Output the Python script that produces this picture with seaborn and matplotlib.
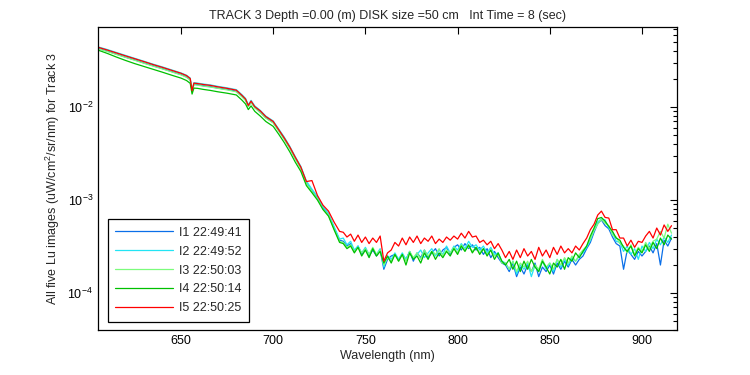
import numpy as np
import matplotlib
matplotlib.use('Agg')
import matplotlib.pyplot as plt
import seaborn as sns

sns.set_style('white')
plt.rcParams['font.family'] = ['Liberation Sans', 'DejaVu Sans']
plt.rcParams['mathtext.default'] = 'regular'

# 波长 (nm): 平滑段 + 噪声段
wl_smooth = [605, 610, 615, 620, 625, 630, 635, 640, 645, 650, 653, 655, 656, 657, 659, 662, 666, 670,
             675, 680, 683, 685, 686.5, 688, 690, 693, 696, 700, 703, 706, 709, 712, 715, 718, 721, 724,
             727, 730, 733, 736]
wl_noisy = [738, 740, 742, 744, 746, 748, 750, 752, 754, 756, 758, 760, 762, 764, 766, 768, 770, 772,
            774, 776, 778, 780, 782, 784, 786, 788, 790, 792, 794, 796, 798, 800, 802, 804, 806, 808,
            810, 812, 814, 816, 818, 820, 822, 824, 826, 828, 830, 832, 834, 836, 838, 840, 842, 844,
            846, 848, 850, 852, 854, 856, 858, 860, 862, 864, 866, 868, 870, 872, 874, 876, 878, 880,
            882, 884, 886, 888, 890, 892, 894, 896, 898, 900, 902, 904, 906, 908, 910, 912, 914, 916]
wavelength = wl_smooth + wl_noisy

# Lu 数值，单位 1e-4 uW/cm^2/sr/nm
lu_i1 = [428, 400, 371, 344, 321, 298, 278, 259, 241, 224, 211, 197, 147, 176, 174, 170, 166, 160,
         155, 148, 131, 119, 102, 113, 99, 88, 77, 68, 56, 45.5, 36.3, 28.0, 22.1, 15.4, 12.6, 10.5,
         8.2, 7.0, 5.0, 3.7,
         3.6, 3.2, 3.4, 2.8, 3.2, 2.6, 3.0, 2.5, 2.9, 2.5, 2.9,
         1.8, 2.3, 2.5, 2.6, 2.3,
         2.6, 2.3, 2.8, 2.2, 2.7, 2.4, 2.9, 2.4, 2.7, 3.0, 2.5, 2.9, 3.1, 2.6, 3.1, 3.3, 2.9, 3.4, 3.0, 3.3,
         2.9, 3.1, 2.6, 3.0, 2.4, 2.8, 2.4, 2.1,
         2.0, 1.7, 2.1, 1.5, 1.9, 1.6, 2.0, 1.7, 2.1, 1.5, 1.9, 1.7, 2.0, 1.6, 2.1, 1.8, 2.2, 1.9, 2.3, 2.0, 2.3,
         2.5, 3.0, 3.5, 4.5, 5.6, 6.1, 5.3, 4.9, 4.0, 3.4, 3.2,
         1.8, 2.9, 2.6, 2.3, 2.8, 2.5, 2.8, 3.2, 2.7, 3.4, 2.0, 3.7, 3.2, 3.9]
lu_i2 = [444, 416, 386, 359, 334, 311, 289, 270, 251, 233, 220, 205, 152, 183, 181, 177, 173, 167,
         161, 154, 136, 124, 106, 118, 103, 92, 80, 71, 58, 47.5, 37.8, 29.2, 23.0, 16.0, 13.1, 10.9,
         8.5, 7.2, 5.2, 3.8,
         3.9, 3.3, 3.6, 2.9, 3.2, 2.7, 3.1, 2.6, 3.0, 2.6, 3.0,
         1.9, 2.5, 2.3, 2.7, 2.3,
         2.7, 2.3, 2.8, 2.3, 2.6, 2.9, 2.4, 2.7, 3.0, 2.5, 2.9, 2.6, 3.2, 2.7, 3.2, 2.9, 3.4, 3.0, 3.6, 3.1,
         3.3, 2.9, 3.2, 2.7, 3.1, 2.6, 2.7, 2.2,
         2.1, 1.8, 2.2, 1.6, 2.0, 1.8, 2.1, 1.5, 2.0, 1.7, 2.2, 1.8, 2.1, 1.7, 2.3, 1.9, 2.3, 2.0, 2.4, 2.2, 2.5,
         2.7, 3.1, 3.7, 4.8, 5.8, 6.3, 6.1, 5.0, 4.5, 3.6, 3.5,
         2.8, 3.2, 2.6, 3.0, 2.3, 3.2, 2.8, 3.5, 3.0, 3.8, 3.3, 4.0, 3.5, 4.2]
lu_i3 = [424, 396, 368, 342, 318, 296, 275, 257, 239, 222, 209, 195, 146, 174, 172, 168, 164, 159,
         153, 146, 129, 118, 101, 112, 98, 87, 76, 67.5, 55, 45, 36, 27.7, 21.8, 15.1, 12.4, 10.3,
         8.0, 6.9, 4.9, 3.6,
         3.5, 3.1, 3.3, 2.8, 3.1, 2.7, 3.0, 2.6, 3.1, 2.6, 2.9,
         2.0, 2.4, 2.2, 2.6, 2.2,
         2.6, 2.2, 2.8, 2.4, 2.7, 2.3, 2.9, 2.5, 2.8, 2.6, 3.0, 2.5, 2.9, 2.7, 3.1, 2.7, 3.3, 2.9, 3.2, 2.8,
         3.1, 2.7, 3.0, 2.6, 2.9, 2.5, 2.6, 2.1,
         2.1, 1.8, 2.2, 1.7, 2.1, 1.9, 2.2, 1.7, 2.0, 1.8, 2.3, 1.9, 2.1, 1.8, 2.3, 2.0, 2.4, 2.1, 2.5, 2.2, 2.6,
         2.9, 3.2, 3.8, 4.7, 5.5, 6.2, 5.6, 5.3, 4.2, 4.0, 3.4,
         3.2, 2.7, 3.3, 2.6, 3.1, 2.8, 3.5, 3.0, 3.6, 3.8, 4.6, 3.9, 5.5, 4.4]
lu_i4 = [410, 378, 345, 317, 293, 273, 254, 237, 220, 205, 193, 180, 138, 160, 159, 155, 151, 146,
         141, 135, 119, 108, 94, 103, 90, 80, 70, 62, 51, 41.5, 33, 25.5, 20.3, 14.3, 12.0, 10.0,
         7.9, 6.7, 4.8, 3.5,
         3.4, 3.0, 3.2, 2.7, 3.1, 2.5, 2.9, 2.4, 3.0, 2.5, 2.8,
         2.1, 2.5, 2.1, 2.6, 2.2,
         2.6, 2.0, 2.7, 2.3, 2.5, 2.1, 2.7, 2.3, 2.8, 2.3, 2.7, 2.4, 2.8, 2.5, 3.0, 2.6, 3.2, 2.8, 3.3, 2.7,
         3.1, 2.6, 3.0, 2.5, 2.9, 2.3, 2.7, 2.2,
         2.0, 2.3, 1.8, 2.2, 1.7, 2.2, 1.8, 2.3, 1.9, 1.7, 2.2, 1.9, 1.6, 2.1, 1.9, 2.3, 1.8, 2.4, 2.2, 2.7, 2.4,
         2.8, 3.2, 4.1, 5.0, 6.3, 6.5, 5.9, 5.2, 4.6, 3.9, 3.7,
         3.1, 2.8, 3.2, 2.5, 3.0, 2.7, 3.3, 2.8, 3.5, 3.0, 3.9, 3.3, 4.2, 3.8]
lu_i5 = [440, 411, 382, 355, 331, 308, 286, 267, 248, 231, 218, 203, 150, 181, 179, 175, 171, 165,
         159, 152, 134, 122, 104, 116, 101, 91, 79, 70, 57, 46.5, 37.2, 28.8, 22.6, 15.8, 16.2, 11.2,
         8.8, 7.6, 5.8, 4.6,
         4.5, 4.0, 4.3, 3.6, 4.2, 3.5, 4.0, 3.4, 3.9, 3.5, 4.1,
         2.2, 2.7, 2.9, 3.5, 3.2,
         3.9, 3.3, 4.0, 3.5, 4.1, 3.4, 3.9, 3.6, 4.1, 3.4, 3.8, 3.5, 4.0, 3.7, 4.1, 3.8, 4.4, 3.9, 4.6, 4.0,
         4.1, 3.5, 3.7, 3.3, 3.6, 3.0, 3.4, 2.9,
         2.4, 2.8, 2.3, 2.9, 2.4, 3.0, 2.5, 2.8, 2.3, 3.1, 2.5, 2.9, 2.4, 3.1, 2.6, 3.2, 2.7, 3.0, 2.7, 3.2, 2.9,
         3.4, 3.9, 4.8, 5.5, 6.9, 7.6, 6.5, 6.4, 4.8, 4.8, 3.9,
         3.9, 3.2, 3.7, 3.1, 3.6, 3.5, 4.1, 4.6, 3.9, 5.0, 4.2, 5.4, 4.6, 5.3]

labels = ['I1 22:49:41', 'I2 22:49:52', 'I3 22:50:03', 'I4 22:50:14', 'I5 22:50:25']
series = [lu_i1, lu_i2, lu_i3, lu_i4, lu_i5]
colors = ['#0a6fe8', '#22e4f4', '#7cfc7c', '#00c000', '#ff0000']

fig = plt.figure(figsize=(7.5, 3.75), dpi=100)
ax = fig.add_axes([0.1307, 0.12, 0.772, 0.807])

for vals, lab, c in zip(series, labels, colors):
    sns.lineplot(x=wavelength, y=np.array(vals) * 1e-4, ax=ax, color=c, linewidth=0.9, label=lab)

ax.set_yscale('log')
ax.set_xlim(605, 919)
ax.set_ylim(4e-5, 0.072)
ax.set_xticks([650, 700, 750, 800, 850, 900])

for sp in ax.spines.values():
    sp.set_color('black')
    sp.set_linewidth(0.9)
ax.tick_params(which='both', direction='in', top=True, right=True, labelsize=9, colors='black')
ax.tick_params(which='major', length=5, width=0.8)
ax.tick_params(which='minor', length=3, width=0.8)
ax.tick_params(axis='x', which='minor', bottom=False, top=False)

ax.set_title('TRACK 3 Depth =0.00 (m) DISK size =50 cm   Int Time = 8 (sec)', fontsize=9, pad=6)
ax.set_xlabel('Wavelength (nm)', fontsize=9, labelpad=2)
ax.set_ylabel('All five Lu images (uW/cm$^2$/sr/nm) for Track 3', fontsize=9, labelpad=4)

leg = ax.legend(loc='lower left', bbox_to_anchor=(0.017, 0.027), borderaxespad=0, fontsize=9,
                frameon=True, fancybox=False, edgecolor='black', handlelength=4.6, handletextpad=0.5,
                labelspacing=0.55, borderpad=0.6, framealpha=1)
leg.get_frame().set_linewidth(0.9)

fig.savefig('out.png', dpi=100)
